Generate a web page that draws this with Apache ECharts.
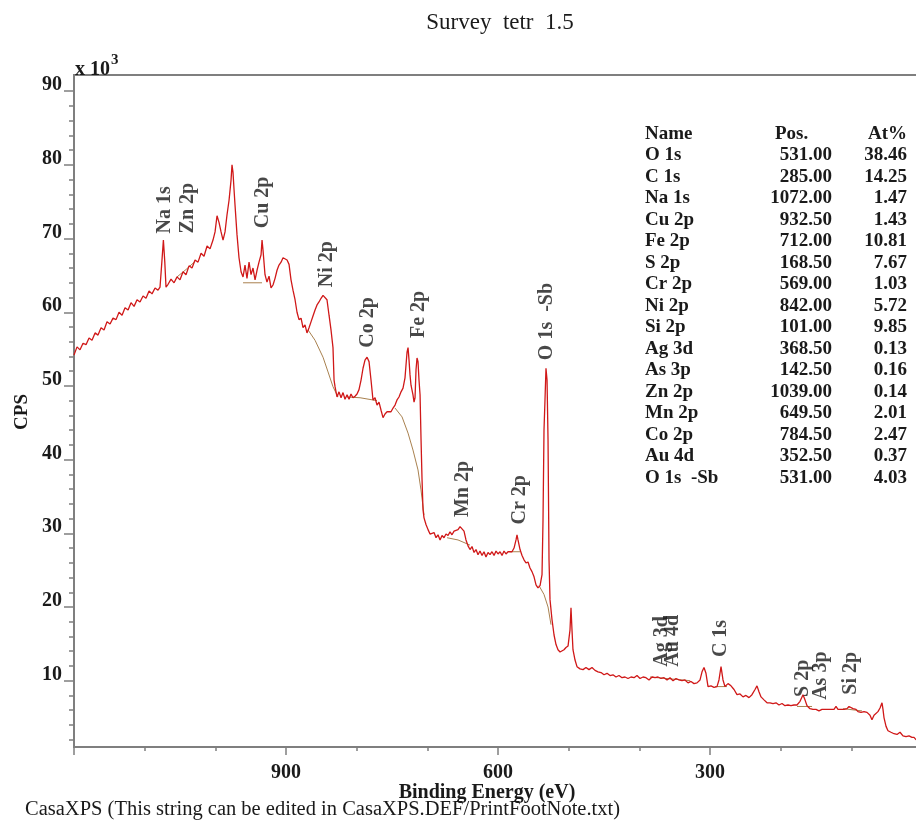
<!DOCTYPE html>
<html>
<head>
<meta charset="utf-8">
<script src="https://cdn.jsdelivr.net/npm/echarts@6/dist/echarts.min.js"></script>
<style>
html, body { margin: 0; padding: 0; background: #fff; }
#chart { width: 916px; height: 821px; }
</style>
</head>
<body>
<div id="chart"></div>
<script>
// Survey spectrum: binding energy (eV) and counts in units of 10^3 CPS
const envelopeEV = [
  1200.0, 1195.7, 1191.5, 1187.2, 1183.0, 1178.7, 1174.5, 1170.2, 1166.0, 1161.7,
  1157.5, 1153.3, 1149.0, 1144.8, 1140.5, 1136.3, 1132.0, 1127.8, 1123.5, 1119.3,
  1115.0, 1110.8, 1106.6, 1102.3, 1098.1, 1093.8, 1089.6, 1085.3, 1081.1, 1078.3,
  1076.0, 1073.5, 1071.5, 1069.8, 1066.9, 1062.7, 1058.4, 1054.2, 1050.0, 1045.7,
  1041.5, 1037.2, 1033.0, 1028.7, 1024.5, 1020.2, 1016.0, 1011.7, 1007.5, 1003.3,
  1000.4, 997.6, 994.8, 991.9, 989.1, 986.3, 983.5, 980.6, 977.8, 976.4,
  975.0, 973.5, 972.1, 969.3, 966.5, 963.6, 960.8, 958.0, 955.2, 952.3,
  949.5, 946.7, 943.8, 941.0, 938.2, 935.3, 933.9, 932.5, 929.7, 926.9,
  924.0, 921.2, 918.4, 915.5, 912.7, 909.9, 907.0, 904.2, 901.4, 898.5,
  895.7, 892.9, 890.1, 887.2, 884.4, 881.6, 878.7, 875.9, 873.1, 870.3,
  867.4, 864.6, 861.8, 858.9, 856.1, 853.3, 850.4, 847.6, 844.8, 842.0,
  839.1, 836.3, 833.5, 832.0, 830.6, 827.8, 825.0, 822.1, 819.3, 816.5,
  813.6, 810.8, 808.0, 805.2, 802.3, 799.5, 796.7, 793.8, 791.0, 788.2,
  785.3, 782.5, 779.7, 776.9, 774.0, 771.2, 768.4, 765.5, 762.7, 759.9,
  757.0, 754.2, 751.4, 748.5, 745.7, 742.9, 740.1, 737.2, 734.4, 731.6,
  730.2, 728.7, 727.3, 725.9, 724.5, 723.1, 720.3, 718.8, 717.4, 716.0,
  714.6, 713.2, 711.8, 710.3, 708.9, 707.5, 706.1, 704.7, 701.9, 699.0,
  696.2, 693.4, 690.5, 687.7, 684.9, 682.0, 679.2, 676.4, 673.6, 670.7,
  667.9, 665.1, 662.2, 659.4, 656.6, 653.7, 650.9, 648.1, 645.3, 642.4,
  639.6, 636.8, 633.9, 631.1, 628.3, 625.5, 622.6, 619.8, 617.0, 614.1,
  611.3, 608.5, 605.6, 602.8, 600.0, 597.1, 594.3, 591.5, 588.7, 585.8,
  583.0, 580.2, 577.3, 574.5, 573.1, 571.7, 568.8, 566.0, 563.2, 560.4,
  557.5, 554.7, 551.9, 549.0, 546.2, 543.4, 540.5, 537.7, 536.3, 534.9,
  533.5, 532.1, 530.6, 529.2, 527.8, 526.4, 523.6, 520.7, 517.9, 515.1,
  512.2, 509.4, 506.6, 503.8, 500.9, 498.1, 496.7, 495.3, 493.9, 491.0,
  488.2, 483.9, 479.7, 475.5, 471.2, 467.0, 462.7, 458.5, 454.2, 450.0,
  445.7, 441.5, 437.3, 433.0, 428.8, 424.5, 420.3, 416.0, 411.8, 407.5,
  403.3, 399.0, 394.8, 390.6, 386.3, 382.1, 377.8, 373.6, 369.3, 365.1,
  360.8, 356.6, 352.3, 348.1, 343.9, 339.6, 335.4, 331.1, 326.9, 322.6,
  318.4, 314.1, 311.3, 308.5, 305.7, 302.8, 298.6, 294.3, 290.1, 287.3,
  284.4, 281.6, 278.8, 274.5, 270.3, 266.0, 261.8, 257.5, 253.3, 249.1,
  244.8, 240.6, 236.3, 233.5, 230.7, 227.8, 223.6, 219.3, 215.1, 210.8,
  206.6, 202.4, 198.1, 193.9, 189.6, 185.4, 181.1, 176.9, 172.6, 169.8,
  168.4, 165.6, 162.7, 158.5, 154.2, 150.0, 145.8, 141.5, 137.3, 133.0,
  128.8, 124.5, 121.7, 118.9, 114.6, 110.4, 106.1, 103.3, 100.5, 97.6,
  93.4, 90.6, 86.3, 82.1, 77.8, 73.6, 70.8, 67.9, 65.1, 62.3,
  59.4, 56.6, 55.2, 53.8, 50.9, 48.1, 43.9, 39.6, 35.4, 31.1,
  26.9, 22.6, 18.4, 14.2, 11.3, 8.5, 4.0, 0.5
];
const envelopeCPS = [
  54.2, 55.3, 54.9, 55.8, 55.6, 56.5, 56.2, 57.2, 56.9, 57.9,
  57.6, 58.7, 58.4, 59.2, 59.0, 60.0, 59.6, 60.6, 60.3, 61.3,
  60.8, 61.7, 61.4, 62.2, 61.9, 62.9, 62.5, 63.3, 63.0, 63.4,
  66.4, 69.8, 66.8, 63.4, 63.8, 64.5, 64.0, 64.8, 64.4, 65.5,
  65.1, 66.3, 66.0, 67.1, 66.8, 68.0, 67.6, 69.0, 68.6, 69.8,
  70.9, 73.1, 72.2, 70.9, 69.8, 70.9, 73.2, 75.2, 77.9, 80.0,
  79.0, 76.6, 74.5, 70.5, 67.4, 65.5, 64.8, 66.4, 64.6, 66.8,
  65.1, 66.0, 64.4, 65.7, 66.8, 67.8, 69.8, 68.4, 65.1, 64.1,
  64.9, 63.3, 63.7, 64.6, 65.7, 66.4, 66.8, 67.4, 67.6, 67.1,
  66.5, 64.4, 63.0, 61.7, 60.0, 59.0, 59.2, 57.9, 58.3, 57.2,
  57.9, 58.7, 59.5, 60.3, 61.0, 61.4, 61.9, 62.3, 62.1, 61.7,
  59.6, 57.6, 55.2, 50.8, 49.9, 48.5, 49.2, 48.4, 49.1, 48.2,
  48.8, 48.2, 48.9, 48.4, 48.6, 48.9, 49.5, 50.8, 52.4, 53.5,
  53.9, 53.3, 50.8, 48.1, 48.4, 47.4, 47.8, 46.7, 45.7, 46.2,
  46.5, 46.7, 46.5, 47.0, 47.4, 48.1, 48.5, 49.2, 49.7, 51.1,
  52.8, 54.6, 55.2, 53.5, 51.5, 50.1, 48.8, 47.8, 48.4, 52.2,
  53.8, 53.3, 50.8, 48.8, 42.7, 37.3, 33.2, 32.1, 31.2, 30.5,
  29.9, 29.7, 30.1, 29.4, 29.8, 29.1, 29.7, 29.4, 29.9, 29.7,
  30.2, 29.8, 30.3, 30.1, 30.5, 30.9, 30.6, 30.3, 29.1, 28.3,
  27.8, 28.2, 27.4, 27.8, 27.1, 27.6, 27.0, 27.5, 26.8, 27.4,
  27.1, 27.5, 27.0, 27.6, 27.2, 27.5, 27.0, 27.6, 27.2, 27.5,
  27.4, 27.5, 28.0, 29.1, 29.8, 29.1, 27.8, 27.0, 26.4, 26.0,
  26.1, 25.3, 24.8, 24.1, 23.0, 22.6, 22.9, 24.4, 31.8, 44.0,
  48.1, 52.4, 50.8, 42.7, 26.4, 21.0, 18.3, 16.2, 14.9, 14.2,
  13.9, 13.8, 14.2, 14.5, 14.7, 16.9, 19.9, 16.9, 14.2, 12.8,
  11.9, 11.6, 11.5, 11.8, 11.5, 11.8, 11.4, 11.2, 11.1, 10.8,
  11.0, 10.7, 10.8, 10.5, 10.7, 10.4, 10.5, 10.3, 10.5, 10.4,
  10.7, 10.3, 10.5, 10.4, 10.1, 10.5, 10.4, 10.5, 10.3, 10.4,
  10.1, 10.4, 10.0, 10.3, 10.1, 10.0, 10.1, 9.7, 9.9, 9.6,
  9.7, 10.1, 11.2, 11.8, 11.0, 9.2, 9.3, 9.1, 9.2, 10.1,
  11.9, 10.1, 9.2, 9.6, 9.3, 8.8, 8.1, 8.2, 7.8, 8.0,
  7.7, 8.1, 8.8, 9.3, 8.5, 7.8, 7.4, 7.0, 7.0, 6.9,
  7.0, 6.7, 6.9, 6.6, 6.7, 6.6, 6.7, 6.7, 7.2, 7.8,
  8.1, 7.4, 6.6, 6.2, 6.1, 6.1, 5.9, 6.1, 6.1, 6.1,
  6.1, 6.1, 6.5, 6.1, 6.1, 6.1, 6.2, 6.5, 6.5, 6.2,
  6.1, 5.8, 5.7, 5.8, 5.7, 5.3, 4.7, 5.3, 5.3, 5.8,
  6.3, 7.0, 6.1, 5.0, 3.8, 3.2, 3.0, 2.8, 2.7, 3.0,
  2.5, 2.4, 2.5, 2.3, 2.3, 2.0, 2.1, 1.9
];

// Fitted backgrounds under each region (null separates regions)
const backgroundEV = [
  1054.2, 1041.5, 1028.7, null,
  960.8, 933.9, null,
  868.8, 858.9, 847.6, 840.5, 833.5, 826.4, null,
  813.6, 795.2, 771.2, null,
  745.7, 735.8, 727.3, 720.3, 713.2, 709.0, 704.7, null,
  672.1, 656.6, 639.6, null,
  583.0, 568.8, null,
  542.0, 534.9, 529.2, 525.0, null,
  384.9, 328.3, null,
  292.9, 276.0, null,
  176.9, 155.6, null,
  111.8, 84.9
];
const backgroundCPS = [
  64.8, 65.8, 66.9, null,
  64.0, 64.0, null,
  57.6, 56.2, 53.9, 51.9, 49.9, 48.5, null,
  48.5, 48.4, 48.0, null,
  47.0, 45.8, 43.6, 41.3, 38.6, 35.9, 32.5, null,
  29.4, 29.1, 28.4, null,
  27.5, 27.5, null,
  22.9, 21.7, 20.0, 17.6, null,
  10.5, 10.0, null,
  9.2, 9.2, null,
  6.5, 6.5, null,
  6.2, 5.9
];

// Peak annotations: name, position (eV), height where the text starts (10^3 CPS)
const peakNames = ['Na 1s', 'Zn 2p', 'Cu 2p', 'Ni 2p', 'Co 2p', 'Fe 2p', 'O 1s  -Sb',
  'Mn 2p', 'Cr 2p', 'Ag 3d', 'Au 4d', 'C 1s', 'S 2p', 'As 3p', 'Si 2p'];
const peakEV = [1072, 1039, 932.5, 842, 784.5, 712, 531, 649.5, 569, 368.5, 352.5, 285, 168.5, 142.5, 101];
const peakLabelCPS = [70.7, 70.7, 71.4, 63.4, 55.2, 56.5, 53.5, 32.2, 31.2, 11.9, 11.9, 13.2, 7.8, 7.4, 8.1];

// Quantification table
const tableNames = ['O 1s', 'C 1s', 'Na 1s', 'Cu 2p', 'Fe 2p', 'S 2p', 'Cr 2p', 'Ni 2p',
  'Si 2p', 'Ag 3d', 'As 3p', 'Zn 2p', 'Mn 2p', 'Co 2p', 'Au 4d', 'O 1s  -Sb'];
const tablePos = ['531.00', '285.00', '1072.00', '932.50', '712.00', '168.50', '569.00', '842.00',
  '101.00', '368.50', '142.50', '1039.00', '649.50', '784.50', '352.50', '531.00'];
const tableAt = ['38.46', '14.25', '1.47', '1.43', '10.81', '7.67', '1.03', '5.72',
  '9.85', '0.13', '0.16', '0.14', '2.01', '2.47', '0.37', '4.03'];

// Axis ticks
const xMin = 0, xMax = 1200, xStep = 300;
const yMin = 1, yMax = 92.2;
const yMajor = [10, 20, 30, 40, 50, 60, 70, 80, 90];
const yMinor = [2, 4, 6, 8, 12, 14, 16, 18, 22, 24, 26, 28, 32, 34, 36, 38, 42, 44, 46, 48,
  52, 54, 56, 58, 62, 64, 66, 68, 72, 74, 76, 78, 82, 84, 86, 88];

const SERIF = '"Liberation Serif", "Times New Roman", serif';
const INK = '#1a1a1a';
const AXIS = '#7f7f7f';
const RED = '#d01818';
const TAN = '#a9814f';

const chart = echarts.init(document.getElementById('chart'), null, { renderer: 'canvas' });

const envelope = envelopeEV.map((e, i) => [e, envelopeCPS[i]]);

// split background into separate runs
const bgRuns = [];
let run = [];
backgroundEV.forEach((e, i) => {
  if (e === null) { if (run.length) bgRuns.push(run); run = []; }
  else run.push([e, backgroundCPS[i]]);
});
if (run.length) bgRuns.push(run);

const bgSeries = bgRuns.map(r => ({
  type: 'line', data: r, symbol: 'none', silent: true, z: 2,
  lineStyle: { color: TAN, width: 1 }
}));

const tableGraphics = [];
const rowTop = 134, rowStep = 21.5;
const cell = (text, x, y, align) => ({
  type: 'text', x: x, y: y, silent: true,
  style: { text: text, fill: INK, font: 'bold 19px ' + SERIF, textAlign: align, textVerticalAlign: 'middle' }
});
tableGraphics.push(cell('Name', 645, rowTop, 'left'));
tableGraphics.push(cell('Pos.', 775, rowTop, 'left'));
tableGraphics.push(cell('At%', 907, rowTop, 'right'));
tableNames.forEach((n, i) => {
  const y = rowTop + (i + 1) * rowStep;
  tableGraphics.push(cell(n, 645, y, 'left'));
  tableGraphics.push(cell(tablePos[i], 832, y, 'right'));
  tableGraphics.push(cell(tableAt[i], 907, y, 'right'));
});

const option = {
  backgroundColor: '#ffffff',
  animation: false,
  grid: {
    left: 74, top: 75, width: 848, bottom: 74,
    outerBoundsMode: 'none', containLabel: false,
    show: true, borderColor: AXIS, borderWidth: 2, backgroundColor: 'transparent'
  },
  xAxis: {
    type: 'value', inverse: true, min: xMin, max: xMax, interval: xStep,
    axisLine: { onZero: false, lineStyle: { color: AXIS, width: 2 } },
    axisTick: { show: true, length: 8, lineStyle: { color: AXIS, width: 1.5 } },
    minorTick: { show: true, splitNumber: 3, length: 4, lineStyle: { color: AXIS, width: 1.5 } },
    splitLine: { show: false },
    minorSplitLine: { show: false },
    axisLabel: {
      margin: 16, color: INK, fontFamily: SERIF, fontWeight: 'bold', fontSize: 20,
      formatter: v => (v === xMax ? '' : String(v))
    }
  },
  yAxis: [
    {
      type: 'value', min: yMin, max: yMax, position: 'left', offset: 0,
      axisLine: { show: true, onZero: false, lineStyle: { color: AXIS, width: 2 } },
      axisTick: { show: true, length: 10, customValues: yMajor, lineStyle: { color: AXIS, width: 1.5 } },
      axisLabel: {
        customValues: yMajor, margin: 12, color: INK, fontFamily: SERIF, fontWeight: 'bold',
        fontSize: 20, verticalAlign: 'bottom', lineHeight: 12
      },
      splitLine: { show: false }
    },
    {
      type: 'value', min: yMin, max: yMax, position: 'left', offset: 0,
      axisLine: { show: false, onZero: false },
      axisTick: { show: true, length: 5, customValues: yMinor, lineStyle: { color: AXIS, width: 1.5 } },
      axisLabel: { show: false },
      splitLine: { show: false }
    }
  ],
  series: [
    ...bgSeries,
    {
      type: 'line', name: 'envelope', data: envelope, symbol: 'none', silent: true, z: 3,
      lineStyle: { color: RED, width: 1.3 }
    },
    {
      type: 'scatter', name: 'peaks', silent: true, z: 4,
      symbolSize: 1, itemStyle: { color: 'rgba(0,0,0,0)' },
      data: peakNames.map((n, i) => ({ name: n, value: [peakEV[i], peakLabelCPS[i]] })),
      label: {
        show: true, position: 'inside', rotate: 90, align: 'left', verticalAlign: 'middle',
        formatter: p => p.name, color: INK, fontFamily: SERIF, fontWeight: 'bold', fontSize: 20
      },
      labelLayout: { hideOverlap: false }
    }
  ],
  graphic: [
    {
      type: 'text', x: 500, y: 23, silent: true,
      style: { text: 'Survey  tetr  1.5', fill: INK, font: '23px ' + SERIF, textAlign: 'center', textVerticalAlign: 'middle' }
    },
    {
      type: 'text', x: 75, y: 66, silent: true,
      style: {
        text: '{b|x 10}{s|3}', textVerticalAlign: 'middle',
        rich: {
          b: { font: 'bold 20px ' + SERIF, fill: INK, verticalAlign: 'bottom' },
          s: { font: 'bold 15px ' + SERIF, fill: INK, verticalAlign: 'top', padding: [0, 0, 12, 1] }
        }
      }
    },
    {
      type: 'text', x: 22, y: 412, rotation: Math.PI / 2, silent: true,
      style: { text: 'CPS', fill: INK, font: 'bold 19px ' + SERIF, textAlign: 'center', textVerticalAlign: 'middle' }
    },
    {
      type: 'text', x: 487, y: 793, silent: true,
      style: { text: 'Binding Energy (eV)', fill: INK, font: 'bold 20px ' + SERIF, textAlign: 'center', textVerticalAlign: 'middle' }
    },
    {
      type: 'text', x: 25, y: 810, silent: true,
      style: { text: 'CasaXPS (This string can be edited in CasaXPS.DEF/PrintFootNote.txt)', fill: INK, font: '20.5px ' + SERIF, textAlign: 'left', textVerticalAlign: 'middle' }
    },
    ...tableGraphics
  ]
};

chart.setOption(option);
</script>
</body>
</html>
